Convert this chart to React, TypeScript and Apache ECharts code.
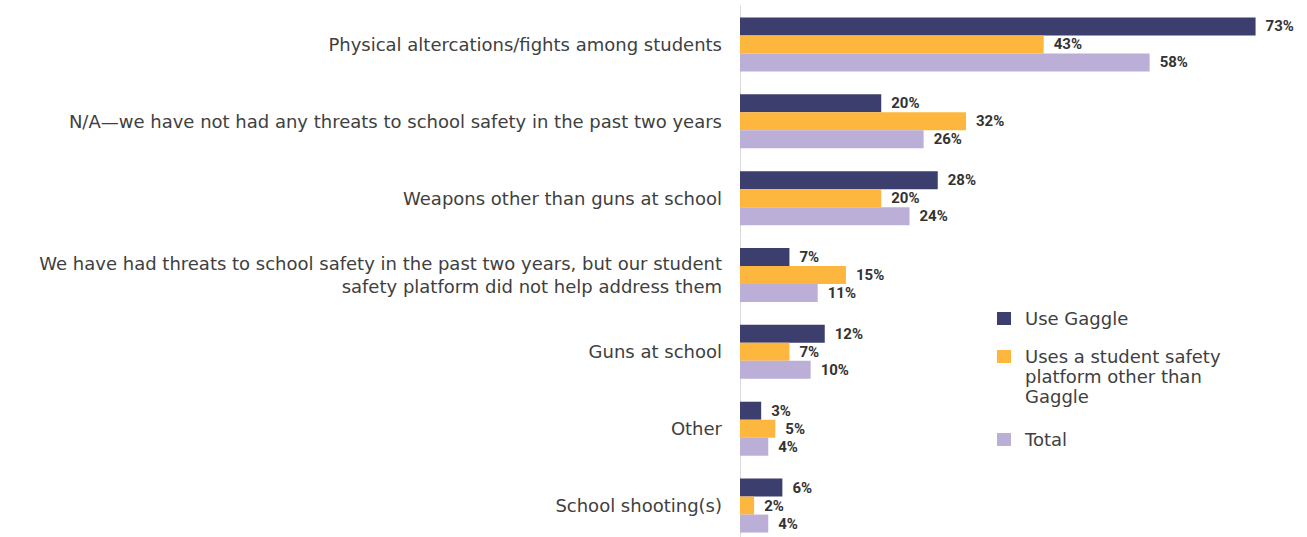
import React, { useEffect, useRef } from "react";
import * as echarts from "echarts";

const categories = [
  "Physical altercations/fights among students",
  "N/A\u2014we have not had any threats to school safety in the past two years",
  "Weapons other than guns at school",
  "We have had threats to school safety in the past two years, but our student\nsafety platform did not help address them",
  "Guns at school",
  "Other",
  "School shooting(s)",
];
const seriesNames = [
  "Use Gaggle",
  "Uses a student safety platform other than Gaggle",
  "Total",
];
const gaggle = [73, 20, 28, 7, 12, 3, 6];
const otherPlatform = [43, 32, 20, 15, 7, 5, 2];
const total = [58, 26, 24, 11, 10, 4, 4];
const colors = ["#3c3f6e", "#fdb73f", "#bbaed7"];

const FONT = "DejaVu Sans";

export default function App() {
  const ref = useRef<HTMLDivElement>(null);
  useEffect(() => {
    if (!ref.current) return;
    const chart = echarts.init(ref.current, null, { renderer: "svg" });
    const values = [gaggle, otherPlatform, total];
    // icon centre y for each legend item's first line
    const iconCentres = [318, 356, 439];
    const legends = seriesNames.map((n, i) => {
      const multi = i === 1;
      const h = multi ? 53 : 13;
      return {
        data: [n],
        orient: "vertical",
        left: 992,
        top: iconCentres[i] - 6.5 - 8,
        itemWidth: 14,
        itemHeight: h,
        icon: multi ? "path://M0,0L14,0L14,13L0,13Z M0,53" : "rect",
        selectedMode: false,
        formatter: (name: string) =>
          name === seriesNames[1]
            ? "Uses a student safety\nplatform other than\nGaggle"
            : name,
        textStyle: {
          color: "#404040",
          fontFamily: FONT,
          fontSize: 18,
          lineHeight: 20,
          padding: [0, 0, 0, 9],
        },
      };
    });
    chart.setOption({
      animation: false,
      grid: { left: 740, right: 2, top: 6, bottom: 1, containLabel: false },
      xAxis: {
        type: "value",
        min: 0,
        max: 80,
        show: false,
      },
      yAxis: {
        type: "category",
        data: categories,
        inverse: true,
        axisLine: { show: true, lineStyle: { color: "#d9d9d9", width: 1 } },
        axisTick: { show: false },
        axisLabel: {
          margin: 18,
          color: "#404040",
          fontFamily: FONT,
          fontSize: 18,
          lineHeight: 23,
          align: "right",
        },
      },
      legend: legends,
      series: seriesNames.map((n, i) => ({
        name: n,
        type: "bar",
        data: values[i],
        barWidth: 18,
        barGap: "0%",
        itemStyle: { color: colors[i] },
        label: {
          show: true,
          position: "right",
          distance: 10,
          formatter: "{c}%",
          color: "#333333",
          fontFamily: "Roboto",
          fontWeight: "bold",
          fontSize: 15,
        },
      })),
    });
    return () => chart.dispose();
  }, []);
  return (
    <div
      style={{
        position: "absolute",
        left: 0,
        top: 0,
        width: 1307,
        height: 537,
        overflow: "hidden",
      }}
    >
      <div ref={ref} style={{ width: 1307, height: 545 }} />
    </div>
  );
}
